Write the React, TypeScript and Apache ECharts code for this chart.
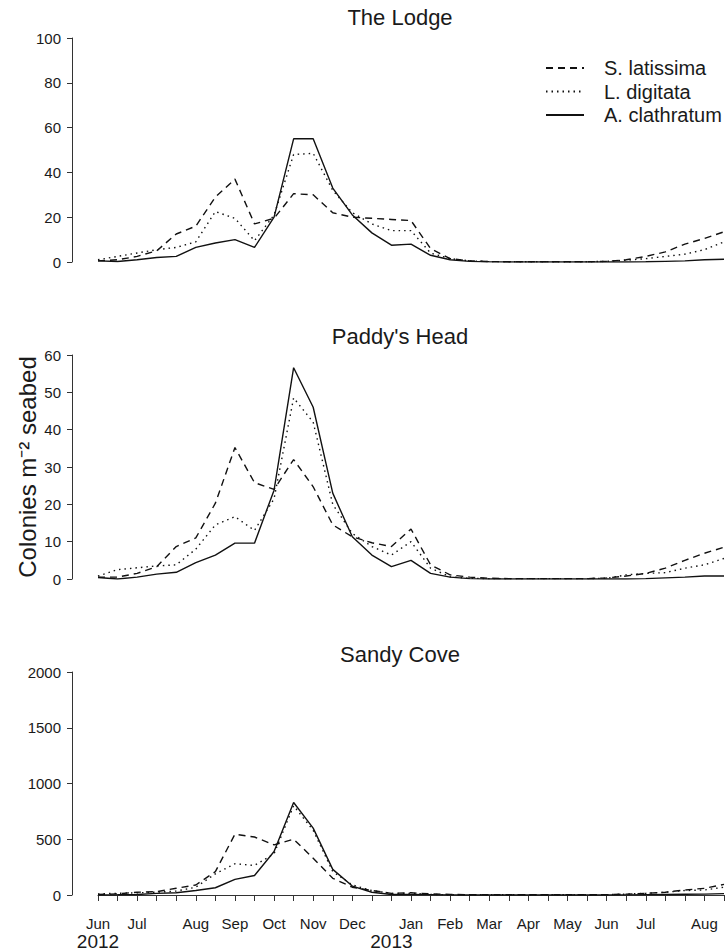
import React, { useEffect, useRef } from "react";
import * as echarts from "echarts";

// 33 sampling occasions (roughly fortnightly), June 2012 – August 2013
const samples = ["1","2","3","4","5","6","7","8","9","10","11","12","13","14","15","16","17","18","19","20","21","22","23","24","25","26","27","28","29","30","31","32","33"];
const monthTickLabels = ["Jun","","Jul","","","Aug","","Sep","","Oct","","Nov","","Dec","","","Jan","","Feb","","Mar","","Apr","","May","","Jun","","Jul","","","Aug",""];
const yearTickLabels = ["2012","","","","","","","","","","","","","","","2013","","","","","","","","","","","","","","","","",""];

const speciesNames = ["S. latissima", "L. digitata", "A. clathratum"];
const siteNames = ["The Lodge", "Paddy's Head", "Sandy Cove"];

// The Lodge
const lodgeLatissima = [0.5, 1, 2.5, 5, 12.5, 16, 29, 37, 17, 19.5, 30.5, 30, 22, 20, 19.5, 19, 18.5, 6, 1.5, 0.5, 0.2, 0.1, 0.1, 0.1, 0.1, 0.1, 0.3, 1, 2.5, 4.5, 8, 10.5, 13.5];
const lodgeDigitata = [1, 2.5, 4, 5.5, 6.5, 9, 22.5, 19.5, 9.5, 21, 48, 48.5, 32, 22, 17, 14, 14, 4, 1.5, 0.5, 0.2, 0.1, 0.1, 0.1, 0.1, 0.1, 0.3, 0.8, 1.5, 2.5, 3.5, 5.5, 9];
const lodgeClathratum = [0.5, 0.2, 1, 2, 2.5, 6.5, 8.5, 10, 6.5, 20, 55, 55, 33, 21, 13, 7.5, 8, 3, 1, 0.3, 0.1, 0, 0, 0, 0, 0, 0, 0, 0.1, 0.3, 0.5, 1, 1.2];

// Paddy's Head
const paddyLatissima = [0.5, 0.5, 1.5, 3.3, 8.7, 11, 20.3, 35.2, 25.8, 24, 32, 24.7, 14.5, 11.3, 9.7, 8.7, 13.4, 3.8, 1.1, 0.5, 0.2, 0.1, 0.1, 0.1, 0.1, 0.1, 0.3, 0.8, 1.5, 2.9, 5, 6.9, 8.5];
const paddyDigitata = [0.8, 2.5, 3, 3.5, 3.8, 8, 14.5, 16.7, 13, 21.5, 48.5, 42, 20, 12.2, 8.7, 6.4, 10, 2.9, 0.6, 0.2, 0.1, 0.1, 0.1, 0.1, 0.1, 0.1, 0.2, 1.1, 1.5, 1.7, 2.9, 3.8, 5.5];
const paddyClathratum = [0.4, 0, 0.5, 1.3, 1.8, 4.4, 6.4, 9.6, 9.6, 23.8, 56.6, 46, 23, 11.3, 6.4, 3.3, 5, 1.5, 0.5, 0.1, 0, 0, 0, 0, 0, 0, 0, 0, 0.1, 0.3, 0.5, 0.8, 0.8];

// Sandy Cove
const sandyLatissima = [5, 10, 25, 30, 60, 90, 210, 545, 520, 450, 500, 330, 150, 70, 40, 15, 20, 10, 5, 2, 2, 2, 2, 2, 2, 2, 3, 8, 15, 25, 45, 60, 95];
const sandyDigitata = [10, 15, 20, 25, 35, 70, 190, 280, 265, 370, 800, 580, 210, 90, 40, 15, 15, 5, 2, 2, 2, 2, 2, 2, 2, 2, 3, 8, 15, 25, 40, 45, 70];
const sandyClathratum = [0, 2, 5, 15, 20, 40, 65, 140, 175, 390, 830, 600, 230, 80, 25, 5, 5, 3, 1, 0, 0, 0, 0, 0, 0, 0, 0, 1, 3, 5, 7, 8, 12];

const yMax = [100, 60, 2000];
const yInterval = [20, 10, 500];

const FONT = "'Liberation Sans', Arial, Helvetica, sans-serif";
const INK = "#1a1a1a";

export default function App() {
  const ref = useRef<HTMLDivElement>(null);
  useEffect(() => {
    if (!ref.current) return;
    const chart = echarts.init(ref.current, undefined, { renderer: "svg" });

    const siteData = [
      [lodgeLatissima, lodgeDigitata, lodgeClathratum],
      [paddyLatissima, paddyDigitata, paddyClathratum],
      [sandyLatissima, sandyDigitata, sandyClathratum],
    ];
    const dashes: any[] = [[7, 5], [1.5, 4], "solid"];
    const gridTops = [38, 355, 672];

    const grids = gridTops.map((t) => ({ left: 98, right: 4, top: t, height: 224 }));

    const hiddenX = (g: number) => ({
      gridIndex: g, type: "category", data: samples, boundaryGap: false, show: false,
    });

    const xAxes: any[] = [
      hiddenX(0),
      hiddenX(1),
      {
        gridIndex: 2, type: "category", data: samples, boundaryGap: false, position: "bottom", offset: 15,
        axisLine: { show: true, lineStyle: { color: "#333", width: 1 } },
        axisTick: { show: true, interval: 0, length: 6, lineStyle: { color: "#333", width: 1 } },
        axisLabel: {
          interval: 0, margin: 6, fontSize: 15, color: INK, fontFamily: FONT,
          formatter: (_v: string, i: number) => monthTickLabels[i],
        },
        splitLine: { show: false },
      },
      {
        gridIndex: 2, type: "category", data: samples, boundaryGap: false, position: "bottom", offset: 15,
        axisLine: { show: false }, axisTick: { show: false },
        axisLabel: {
          interval: 0, margin: 22, fontSize: 19, color: INK, fontFamily: FONT,
          formatter: (_v: string, i: number) => yearTickLabels[i],
        },
        splitLine: { show: false },
      },
    ];

    const yAxes = [0, 1, 2].map((g) => ({
      gridIndex: g, type: "value", min: 0, max: yMax[g], interval: yInterval[g], offset: 26,
      axisLine: { show: true, lineStyle: { color: "#333", width: 1 } },
      axisTick: { show: true, length: 5, lineStyle: { color: "#333", width: 1 } },
      axisLabel: { margin: 11, fontSize: 15, color: INK, fontFamily: FONT, formatter: (v: number) => String(v) },
      splitLine: { show: false },
    }));

    const series: any[] = [];
    siteData.forEach((arrs, g) => {
      arrs.forEach((vals, s) => {
        series.push({
          name: speciesNames[s], type: "line", xAxisIndex: g, yAxisIndex: g,
          data: vals, symbol: "none", smooth: false,
          lineStyle: { color: "#111", width: 1.4, type: dashes[s] },
          itemStyle: { color: "#111" },
          emphasis: { disabled: true },
        });
      });
    });

    const titleYs = [17, 336, 654];

    chart.setOption({
      animation: false,
      textStyle: { fontFamily: FONT },
      grid: grids,
      xAxis: xAxes,
      yAxis: yAxes,
      legend: {
        data: speciesNames, orient: "vertical", left: 540, top: 53,
        itemWidth: 38, itemHeight: 14, itemGap: 3.5,
        itemStyle: { opacity: 0 },
        textStyle: { fontSize: 20, lineHeight: 20, color: INK, fontFamily: FONT, padding: [0, 0, 0, 15] },
        selectedMode: false,
      },
      graphic: [
        ...siteNames.map((n, i) => ({
          type: "text", x: 400, y: titleYs[i],
          style: { text: n, fontSize: 22, fontFamily: FONT, fill: INK, textAlign: "center", textVerticalAlign: "middle" },
        })),
        {
          type: "text", x: 27, y: 467, rotation: Math.PI / 2,
          style: { text: "Colonies m⁻² seabed", fontSize: 24, fontFamily: FONT, fill: INK, textAlign: "center", textVerticalAlign: "middle" },
        },
      ],
      series,
    });
    return () => chart.dispose();
  }, []);
  return <div ref={ref} style={{ position: "absolute", left: 0, top: 0, width: 728, height: 951 }} />;
}
